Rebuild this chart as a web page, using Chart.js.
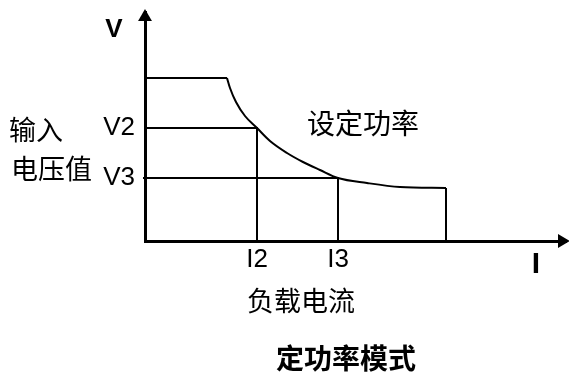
<!DOCTYPE html>
<html>
<head>
<meta charset="utf-8">
<script src="https://cdn.jsdelivr.net/npm/chart.js@4/dist/chart.umd.min.js"></script>
<style>
  html, body { margin: 0; padding: 0; background: #ffffff; }
  #wrap { position: relative; width: 569px; height: 372px; }
</style>
</head>
<body>
<div id="wrap"><canvas id="c" width="569" height="372"></canvas></div>
<script>
// ---- data (arbitrary schematic units) ----
const voltageMax = 163;              // plateau voltage
const voltageTickValues = [113, 63]; // V2, V3
const voltageTickLabels = ['V2', 'V3'];
const currentTickValues = [112, 193]; // I2, I3
const currentTickLabels = ['I2', 'I3'];
const plateauEnd = 82;               // current where the constant-power curve starts
const curveCurrent = [82, 85, 91, 100, 112, 125, 142, 158, 175, 193, 222, 255, 301];
const curveVoltage = [163, 153, 139, 125, 113, 100, 88, 79, 71, 63, 58, 54, 53];
const axisCurrentMax = 421;
const axisVoltageMax = 229;

const BLACK = '#000000';
const latin = '"Liberation Sans", Arial, sans-serif';
const cjk = '"Noto Sans CJK SC", sans-serif';

const lastI = curveCurrent[curveCurrent.length - 1];
const lastV = curveVoltage[curveVoltage.length - 1];

function seg(points, width) {
  return {
    type: 'scatter', showLine: true, data: points,
    borderColor: BLACK, borderWidth: width, pointRadius: 0, tension: 0, clip: false
  };
}

const datasets = [
  seg([{x: 0, y: voltageMax}, {x: plateauEnd, y: voltageMax}], 2),
  {
    type: 'scatter', showLine: true,
    data: curveCurrent.map((x, i) => ({x, y: curveVoltage[i]})),
    borderColor: BLACK, borderWidth: 2, pointRadius: 0,
    cubicInterpolationMode: 'monotone', clip: false
  },
  seg([{x: 0, y: voltageTickValues[0]}, {x: currentTickValues[0], y: voltageTickValues[0]}, {x: currentTickValues[0], y: 0}], 2),
  seg([{x: -2, y: voltageTickValues[1]}, {x: currentTickValues[1], y: voltageTickValues[1]}, {x: currentTickValues[1], y: 0}], 2),
  seg([{x: lastI, y: lastV}, {x: lastI, y: 0}], 2),
  // axis arrow heads
  {
    type: 'scatter', data: [{x: 0, y: axisVoltageMax - 5}],
    pointStyle: 'triangle', pointRadius: 8, pointRotation: 0,
    backgroundColor: BLACK, borderColor: BLACK, borderWidth: 0, clip: false
  },
  {
    type: 'scatter', data: [{x: axisCurrentMax - 4, y: 0}],
    pointStyle: 'triangle', pointRadius: 8, pointRotation: 90,
    backgroundColor: BLACK, borderColor: BLACK, borderWidth: 0, clip: false
  }
];

const texts = [
  {t: 'V', x: 114, y: 37, font: 'bold 26px ' + latin, align: 'center', base: 'alphabetic'},
  {t: 'I', x: 536, y: 273, font: 'bold 30px ' + latin, align: 'center', base: 'alphabetic'},
  {t: '输入', x: 9, y: 130, font: '27px ' + cjk, align: 'left', base: 'middle'},
  {t: '电压值', x: 11, y: 169, font: '27px ' + cjk, align: 'left', base: 'middle'},
  {t: '设定功率', x: 363, y: 123, font: '28px ' + cjk, align: 'center', base: 'middle'},
  {t: '负载电流', x: 301, y: 301, font: '27px ' + cjk, align: 'center', base: 'middle'},
  {t: '定功率模式', x: 346, y: 358, font: 'bold 28px ' + cjk, align: 'center', base: 'middle'}
];

const textPlugin = {
  id: 'schematicText',
  afterDraw(chart) {
    const ctx = chart.ctx;
    ctx.save();
    ctx.fillStyle = BLACK;
    texts.forEach(o => {
      ctx.font = o.font;
      ctx.textAlign = o.align;
      ctx.textBaseline = o.base;
      ctx.fillText(o.t, o.x, o.y);
    });
    ctx.restore();
  }
};

function zeroPad(s) {
  s.paddingTop = 0; s.paddingBottom = 0; s.paddingLeft = 0; s.paddingRight = 0;
}

new Chart(document.getElementById('c'), {
  type: 'scatter',
  data: { datasets },
  plugins: [textPlugin],
  options: {
    responsive: false,
    animation: false,
    layout: { autoPadding: false, padding: { left: 0, right: 3, top: 12, bottom: 0 } },
    plugins: { legend: { display: false }, tooltip: { enabled: false }, title: { display: false } },
    scales: {
      x: {
        type: 'linear', min: 0, max: axisCurrentMax,
        grid: { display: false, drawTicks: false },
        border: { display: true, color: BLACK, width: 3 },
        afterFit(s) { s.height = 131; zeroPad(s); },
        afterBuildTicks(s) { s.ticks = currentTickValues.map(v => ({value: v})); },
        ticks: {
          autoSkip: false, maxRotation: 0, padding: 3, color: BLACK,
          font: { family: latin, size: 26 },
          callback: (v) => currentTickLabels[currentTickValues.indexOf(v)]
        }
      },
      y: {
        type: 'linear', min: 0, max: axisVoltageMax,
        grid: { display: false, drawTicks: false },
        border: { display: true, color: BLACK, width: 3 },
        afterFit(s) { s.width = 145; zeroPad(s); },
        afterBuildTicks(s) { s.ticks = voltageTickValues.map(v => ({value: v})); },
        ticks: {
          autoSkip: false, padding: 10, color: BLACK,
          font: { family: latin, size: 26 },
          callback: (v) => voltageTickLabels[voltageTickValues.indexOf(v)]
        }
      }
    }
  }
});
</script>
</body>
</html>
